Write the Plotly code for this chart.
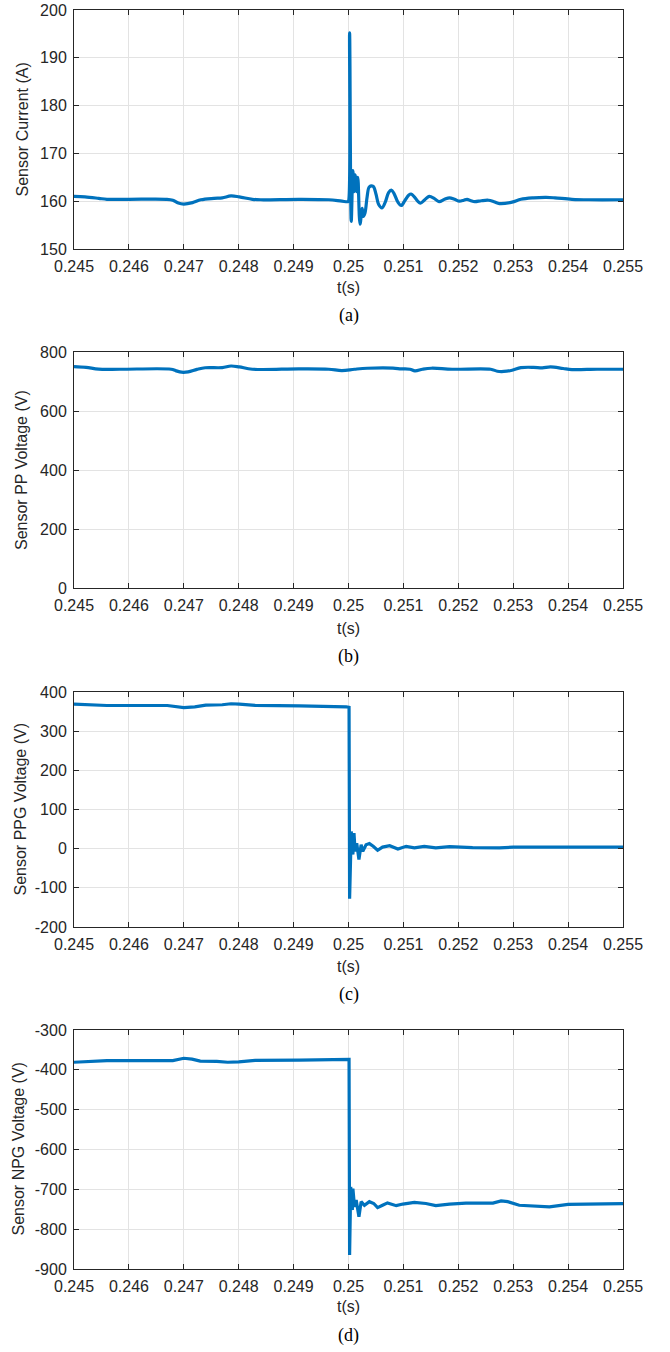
import plotly.graph_objects as go

# ---------------- data ----------------
x_ticks = [0.245, 0.246, 0.247, 0.248, 0.249, 0.250, 0.251, 0.252, 0.253, 0.254, 0.255]
x_ticktext = ["0.245", "0.246", "0.247", "0.248", "0.249", "0.25",
              "0.251", "0.252", "0.253", "0.254", "0.255"]

# (a) Sensor Current (A)
t_a = [0.24500, 0.24520, 0.24545, 0.24560, 0.24600, 0.24669, 0.24680, 0.24690, 0.24700,
       0.24716, 0.24731, 0.24755, 0.24770, 0.24786, 0.24801, 0.24825, 0.24840, 0.24910,
       0.24964, 0.24988, 0.24999, 0.25000, 0.25002, 0.25005, 0.25008, 0.25010, 0.25012,
       0.25015, 0.25017, 0.25021, 0.25025, 0.25027, 0.25030, 0.25034, 0.25038, 0.25045,
       0.25050, 0.25055, 0.25061, 0.25067, 0.25073, 0.25078, 0.25083, 0.25090, 0.25096,
       0.25103, 0.25110, 0.25114, 0.25120, 0.25126, 0.25131, 0.25139, 0.25147, 0.25156,
       0.25165, 0.25175, 0.25184, 0.25193, 0.25202, 0.25210, 0.25216, 0.25223, 0.25230,
       0.25242, 0.25255, 0.25265, 0.25275, 0.25298, 0.25314, 0.25337, 0.25360, 0.25376,
       0.25407, 0.25438, 0.25500]
i_a = [161.0, 160.9, 160.6, 160.4, 160.4, 160.4, 160.2, 159.6, 159.4,
       159.7, 160.3, 160.6, 160.7, 161.1, 160.9, 160.4, 160.3, 160.4,
       160.3, 160.0, 159.9, 160.0, 195.2, 155.8, 166.4, 162.0, 165.5,
       162.0, 165.0, 155.2, 158.5, 156.8, 157.5, 161.0, 163.0, 163.1,
       161.5, 159.3, 158.6, 159.8, 161.8, 162.3, 161.6, 159.8, 159.1,
       160.2, 161.3, 161.5, 160.9, 160.0, 159.6, 160.3, 161.0, 160.6,
       159.9, 160.4, 160.7, 160.4, 160.0, 160.2, 160.4, 160.1, 159.9,
       160.1, 160.2, 159.9, 159.5, 159.8, 160.4, 160.7, 160.8, 160.7,
       160.4, 160.3, 160.3]

# (b) Sensor PP Voltage (V)
t_b = [0.24500, 0.24522, 0.24545, 0.24584, 0.24677, 0.24685, 0.24696, 0.24708, 0.24724,
       0.24739, 0.24770, 0.24786, 0.24801, 0.24825, 0.24910, 0.24964, 0.24988, 0.25011,
       0.25034, 0.25081, 0.25096, 0.25112, 0.25121, 0.25135, 0.25151, 0.25189, 0.25259,
       0.25271, 0.25283, 0.25298, 0.25314, 0.25337, 0.25353, 0.25368, 0.25391, 0.25407,
       0.25453, 0.25500]
v_b = [750.6, 748.0, 742.0, 741.6, 741.6, 737.0, 731.5, 732.6, 741.0,
       746.5, 747.0, 752.5, 749.4, 741.6, 742.7, 741.6, 737.0, 741.6,
       745.0, 745.5, 742.7, 741.6, 736.0, 741.6, 745.0, 741.6, 741.6,
       734.8, 734.0, 738.0, 747.0, 748.0, 746.0, 749.4, 744.0, 740.5,
       741.6, 741.6]

# (c) Sensor PPG Voltage (V)
t_c = [0.24500, 0.24530, 0.24560, 0.24670, 0.24685, 0.24700, 0.24720, 0.24740, 0.24770,
       0.24786, 0.24801, 0.24830, 0.24911, 0.24980, 0.24996, 0.25001, 0.25002, 0.25005,
       0.25008, 0.25010, 0.25012, 0.25015, 0.25019, 0.25023, 0.25026, 0.25032, 0.25038,
       0.25045, 0.25053, 0.25062, 0.25075, 0.25090, 0.25105, 0.25120, 0.25138, 0.25159,
       0.25184, 0.25226, 0.25275, 0.25300, 0.25400, 0.25500]
v_c = [369.0, 367.0, 365.5, 365.5, 363.0, 360.0, 362.0, 366.5, 367.5,
       370.0, 369.0, 366.0, 364.4, 363.6, 362.0, 361.0, -128.0, 44.0,
       -15.0, 40.0, -7.0, 14.0, -28.0, 10.0, -7.0, 10.0, 13.0,
       6.0, -4.0, 4.0, 7.6, -0.8, 6.0, 2.0, 6.0, 2.0,
       5.0, 2.5, 2.0, 4.0, 5.0, 4.0]

# (d) Sensor NPG Voltage (V)
t_d = [0.24500, 0.24530, 0.24560, 0.24680, 0.24690, 0.24700, 0.24715, 0.24730, 0.24760,
       0.24780, 0.24800, 0.24830, 0.24911, 0.24990, 0.24996, 0.25001, 0.25002, 0.25004,
       0.25007, 0.25008, 0.25011, 0.25014, 0.25019, 0.25023, 0.25029, 0.25038, 0.25046,
       0.25053, 0.25062, 0.25071, 0.25087, 0.25099, 0.25120, 0.25141, 0.25159, 0.25184,
       0.25214, 0.25263, 0.25278, 0.25290, 0.25311, 0.25335, 0.25366, 0.25400, 0.25450,
       0.25500]
v_d = [-381.0, -379.0, -377.0, -377.0, -373.0, -371.0, -373.0, -378.0, -379.0,
       -381.0, -380.0, -376.5, -375.7, -375.0, -373.0, -374.0, -865.0, -694.0,
       -752.0, -698.0, -744.0, -727.0, -769.0, -731.0, -740.0, -731.0, -735.6,
       -746.0, -740.0, -734.0, -741.0, -737.0, -733.0, -735.6, -741.0, -737.0,
       -734.7, -734.7, -729.0, -731.0, -740.0, -742.0, -744.0, -738.0, -736.0,
       -736.0]

y_titles = ["Sensor Current (A)", "Sensor PP Voltage (V)",
            "Sensor PPG Voltage (V)", "Sensor NPG Voltage (V)"]
y_ranges = [[150, 200], [0, 800], [-200, 400], [-900, -300]]
y_tickvals = [[150, 160, 170, 180, 190, 200],
              [0, 200, 400, 600, 800],
              [-200, -100, 0, 100, 200, 300, 400],
              [-900, -800, -700, -600, -500, -400, -300]]
y_ticktext = [["150", "160", "170", "180", "190", "200"],
              ["0", "200", "400", "600", "800"],
              ["-200", "-100", "0", "100", "200", "300", "400"],
              ["-900", "-800", "-700", "-600", "-500", "-400", "-300"]]
captions = ["(a)", "(b)", "(c)", "(d)"]
line_shapes = ["spline", "spline", "linear", "linear"]

# ---------------- layout geometry (page pixels) ----------------
W, H = 670, 1352
x_left, x_right = 74, 623
panels_px = [(10, 249), (352, 588), (692, 927), (1030, 1269)]  # top, bottom
xtitle_px = [288, 628, 966, 1306]
caption_px = [316, 656, 994, 1335]
ytitle_x_px = [22, 22, 20, 18]

LINE = "#0072BD"
AX = "#262626"
GRID = "#e3e3e3"
SANS = "Liberation Sans, Arial, sans-serif"
SERIF = "Liberation Serif, Times New Roman, serif"

fig = go.Figure()
series = [(t_a, i_a), (t_b, v_b), (t_c, v_c), (t_d, v_d)]
annotations = []
for k, (tt, vv) in enumerate(series):
    xa = "x" if k == 0 else f"x{k+1}"
    ya = "y" if k == 0 else f"y{k+1}"
    line = dict(color=LINE, width=3.2, shape=line_shapes[k])
    if line_shapes[k] == "spline":
        line["smoothing"] = 1.0
    fig.add_trace(go.Scatter(x=tt, y=vv, mode="lines", xaxis=xa, yaxis=ya,
                             line=line, showlegend=False, hoverinfo="skip"))
    top, bot = panels_px[k]
    xkey = "xaxis" if k == 0 else f"xaxis{k+1}"
    ykey = "yaxis" if k == 0 else f"yaxis{k+1}"
    fig.layout[xkey] = dict(
        domain=[x_left / W, x_right / W], range=[0.245, 0.255],
        anchor=ya, tickvals=x_ticks, ticktext=x_ticktext, automargin=False,
        showgrid=True, gridcolor=GRID, gridwidth=1, zeroline=False,
        showline=True, linecolor=AX, linewidth=1, mirror="ticks",
        ticks="inside", ticklen=5, tickcolor=AX,
        tickfont=dict(family=SANS, size=16, color=AX),
        ticklabelstandoff=3,
    )
    fig.layout[ykey] = dict(
        domain=[1 - bot / H, 1 - top / H], range=y_ranges[k],
        anchor=xa, tickvals=y_tickvals[k], ticktext=y_ticktext[k], automargin=False,
        showgrid=True, gridcolor=GRID, gridwidth=1, zeroline=False,
        showline=True, linecolor=AX, linewidth=1, mirror="ticks",
        ticks="inside", ticklen=5, tickcolor=AX,
        tickfont=dict(family=SANS, size=16, color=AX),
        ticklabelstandoff=3, ticklabeloverflow="allow",
    )
    annotations.append(dict(
        text=y_titles[k], xref="paper", yref="paper",
        x=ytitle_x_px[k] / W, y=1 - (top + bot) / 2 / H,
        xanchor="center", yanchor="middle", textangle=-90, showarrow=False,
        font=dict(family=SANS, size=16, color=AX)))
    annotations.append(dict(
        text="t(s)", xref="paper", yref="paper",
        x=(x_left + x_right) / 2 / W, y=1 - xtitle_px[k] / H,
        xanchor="center", yanchor="middle", showarrow=False,
        font=dict(family=SANS, size=16, color=AX)))
    annotations.append(dict(
        text=captions[k], xref="paper", yref="paper",
        x=(x_left + x_right) / 2 / W, y=1 - caption_px[k] / H,
        xanchor="center", yanchor="middle", showarrow=False,
        font=dict(family=SERIF, size=18, color="#000000")))

fig.update_layout(width=W, height=H, margin=dict(l=0, r=0, t=0, b=0),
                  paper_bgcolor="white", plot_bgcolor="white",
                  annotations=annotations)

# remove the browser's default 8px page margin so the figure sits at (0, 0)
fig.write_html("out.html",
               config={"displayModeBar": False},
               post_script="document.body.style.margin='0px';"
                           "document.body.style.overflow='hidden';")
